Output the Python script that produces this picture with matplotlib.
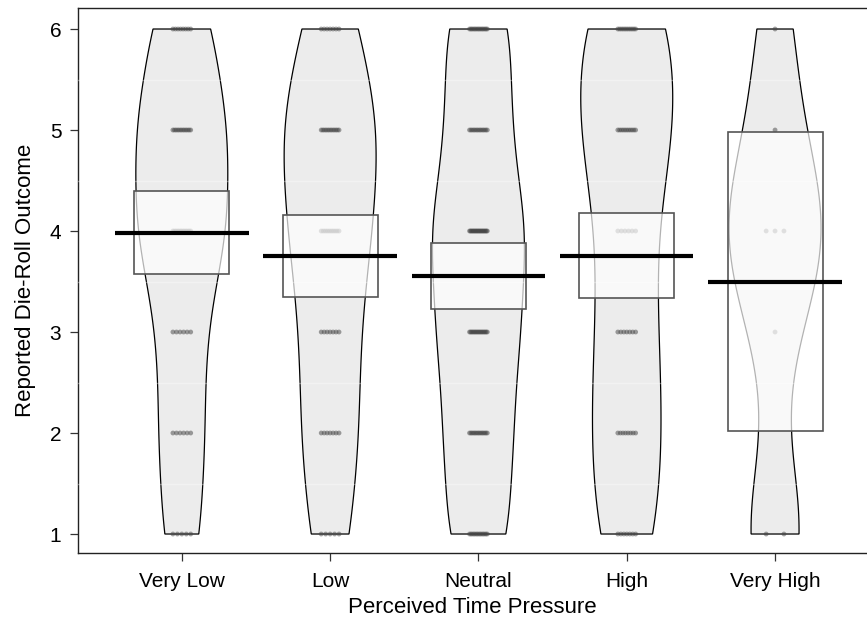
import numpy as np
import matplotlib
matplotlib.use("Agg")
import matplotlib.pyplot as plt
from matplotlib.patches import Polygon, Rectangle

plt.rcParams['font.family'] = ['Liberation Sans Narrow', 'Liberation Sans', 'DejaVu Sans']

# die-roll outcomes and how many people reported each, per condition
outcomes = [1, 2, 3, 4, 5, 6]
groups = ['Very Low', 'Low', 'Neutral', 'High', 'Very High']
counts = {
    'Very Low':  [5, 6, 6, 12, 12, 8],
    'Low':       [5, 7, 7, 10, 12, 7],
    'Neutral':   [13, 14, 17, 20, 13, 14],
    'High':      [7, 8, 7, 6, 11, 11],
    'Very High': [2, 0, 1, 3, 1, 1],
}
# means and inference bands
group_means = [3.98, 3.75, 3.55, 3.75, 3.50]
band_low = [3.57, 3.35, 3.23, 3.34, 2.02]
band_high = [4.40, 4.16, 3.88, 4.18, 4.98]


def nrd0(x):
    # R's default bandwidth
    sd = np.std(x, ddof=1)
    iqr = np.subtract(*np.percentile(x, [75, 25]))
    return 0.9 * min(sd, iqr / 1.34) * len(x) ** -0.2


fig = plt.figure(figsize=(8.67, 6.28), dpi=100)
ax = fig.add_axes([78 / 867, 75 / 628, 789 / 867, 545 / 628])

bean_w = 0.31
box_w = 0.32
line_w = 0.45

for i, g in enumerate(groups):
    pos = i + 1
    data = np.repeat(outcomes, counts[g]).astype(float)
    h = nrd0(data)
    ys = np.linspace(data.min(), data.max(), 300)
    dens = np.exp(-0.5 * ((ys[:, None] - data[None, :]) / h) ** 2).sum(axis=1)
    dens = dens / dens.max() * bean_w

    xs = np.concatenate([pos - dens, (pos + dens)[::-1]])
    yy = np.concatenate([ys, ys[::-1]])
    ax.add_patch(Polygon(np.column_stack([xs, yy]), closed=True,
                         facecolor='#ececec', edgecolor='black', lw=0.9, zorder=2))

    # points, spread evenly instead of random jitter
    for val, c in zip(outcomes, counts[g]):
        if c == 0:
            continue
        offs = np.linspace(-0.06, 0.06, c) if c > 1 else np.array([0.0])
        ax.scatter(pos + offs, np.full(c, val), s=12, color='#444444',
                   alpha=0.5, edgecolors='none', zorder=4)

    ax.add_patch(Rectangle((pos - box_w, band_low[i]), 2 * box_w,
                           band_high[i] - band_low[i],
                           facecolor='white', alpha=0.7, edgecolor='none', zorder=5))
    ax.add_patch(Rectangle((pos - box_w, band_low[i]), 2 * box_w,
                           band_high[i] - band_low[i],
                           facecolor='none', edgecolor='#555555', lw=1.2, zorder=6))
    ax.plot([pos - line_w, pos + line_w], [group_means[i]] * 2,
            color='black', lw=3, solid_capstyle='butt', zorder=7)

# faint light gridlines that only show through the beans
for gy in np.arange(1.5, 6.0, 1.0):
    ax.axhline(gy, color='white', lw=1, alpha=0.35, zorder=3)

ax.set_xlim(0.3, 5.62)
ax.set_ylim(0.812, 6.208)
ax.set_xticks(range(1, 6))
ax.set_xticklabels(groups)
ax.set_yticks(outcomes)

ax.spines['right'].set_visible(False)
for s in ['left', 'bottom', 'top']:
    ax.spines[s].set_color('#222222')
    ax.spines[s].set_linewidth(1.0)
ax.tick_params(axis='both', direction='out', length=6, width=0.9,
               colors='#333333', labelcolor='black', labelsize=15)
ax.tick_params(axis='x', pad=8)
ax.tick_params(axis='y', pad=6)

ax.set_xlabel('Perceived Time Pressure', fontsize=16, labelpad=4)
ax.set_ylabel('Reported Die-Roll Outcome', fontsize=16, labelpad=10)

fig.savefig('out.png', dpi=100)
